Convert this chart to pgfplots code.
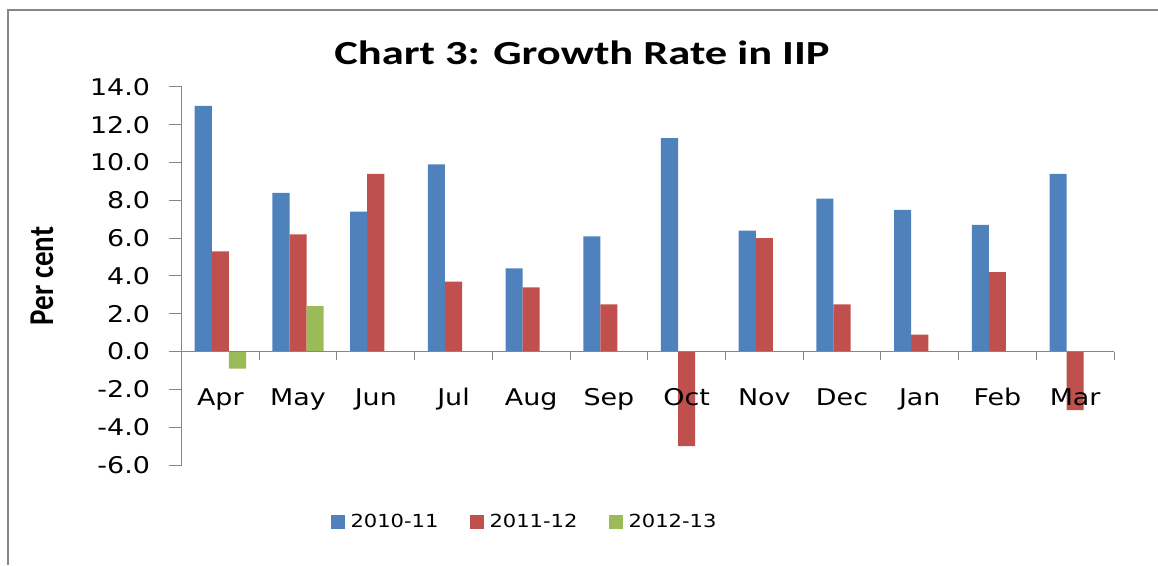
\documentclass[border=0pt]{standalone}
\usepackage{pgfplots}
\pgfplotsset{compat=1.18}
\usepackage{fontspec}
\setmainfont{DejaVu Sans}[FakeStretch=1.17]
\newfontfamily\calfont{Carlito}
\newfontfamily\titlefont{Carlito}[FakeStretch=1.32]
\definecolor{sblue}{HTML}{4F81BD}
\definecolor{sred}{HTML}{C0504D}
\definecolor{sgreen}{HTML}{9BBB59}
\definecolor{axgray}{HTML}{868686}
\begin{document}
\begin{tikzpicture}[x=1pt,y=1pt]
\path[use as bounding box] (0,0) rectangle (1158,565);
\draw[axgray, line width=2pt] (7.5,0) -- (7.5,555) -- (1158,555);
\node[anchor=base, font=\titlefont\bfseries\fontsize{33.7}{40}\selectfont] at (582,500) {Chart 3: Growth Rate in IIP};
\node[anchor=base, rotate=90, font=\calfont\bfseries\fontsize{29}{34}\selectfont] at (53,289) {\scalebox{1}[1.2]{Per cent}};
\begin{axis}[
    at={(181.5pt,100pt)}, anchor=south west,
    scale only axis, width=932.5pt, height=378pt,
    xmin=0.5, xmax=12.5, ymin=-6, ymax=14,
    axis x line=middle, axis y line=left,
    axis line style={axgray, line width=1pt, -},
    ybar=0pt, bar width=0.22,
    xtick={1,...,12},
    xticklabels={Apr,May,Jun,Jul,Aug,Sep,Oct,Nov,Dec,Jan,Feb,Mar},
    minor xtick={0.5,1.5,...,12.5},
    major x tick style={draw=none},
    minor x tick style={axgray, line width=1pt},
    y tick style={axgray, line width=1pt},
    tick align=outside,
    major tick length=13pt, minor tick length=8pt,
    ytick={-6,-4,...,14},
    yticklabel style={xshift=-15pt, /pgf/number format/.cd, fixed, fixed zerofill, precision=1},
    /pgf/number format/assume math mode=true,
    tick label style={font=\fontsize{23}{27}\selectfont, text=black},
    xticklabel style={yshift=-20pt, text height=17pt, text depth=5pt},
    axis on top,
    legend columns=3,
    legend style={at={(0.3673,-0.1508)}, anchor=center, draw=none, fill=none,
        font=\fontsize{18}{22}\selectfont,
        nodes={inner sep=1pt},
        /tikz/every odd column/.append style={column sep=5pt},
        /tikz/every even column/.append style={column sep=30pt}},
]
\addplot[fill=sblue, draw=none, legend image code/.code={\fill[sblue] (0pt,-7pt) rectangle (14pt,7pt);}] coordinates {
(1,13.0) (2,8.4) (3,7.4) (4,9.9) (5,4.4) (6,6.1) (7,11.3) (8,6.4) (9,8.1) (10,7.5) (11,6.7) (12,9.4)};
\addplot[fill=sred, draw=none, legend image code/.code={\fill[sred] (0pt,-7pt) rectangle (14pt,7pt);}] coordinates {
(1,5.3) (2,6.2) (3,9.4) (4,3.7) (5,3.4) (6,2.5) (7,-5.0) (8,6.0) (9,2.5) (10,0.9) (11,4.2) (12,-3.1)};
\addplot[fill=sgreen, draw=none, legend image code/.code={\fill[sgreen] (0pt,-7pt) rectangle (14pt,7pt);}] coordinates {
(1,-0.9) (2,2.4)};
\legend{2010-11,2011-12,2012-13}
\end{axis}
\end{tikzpicture}
\end{document}
